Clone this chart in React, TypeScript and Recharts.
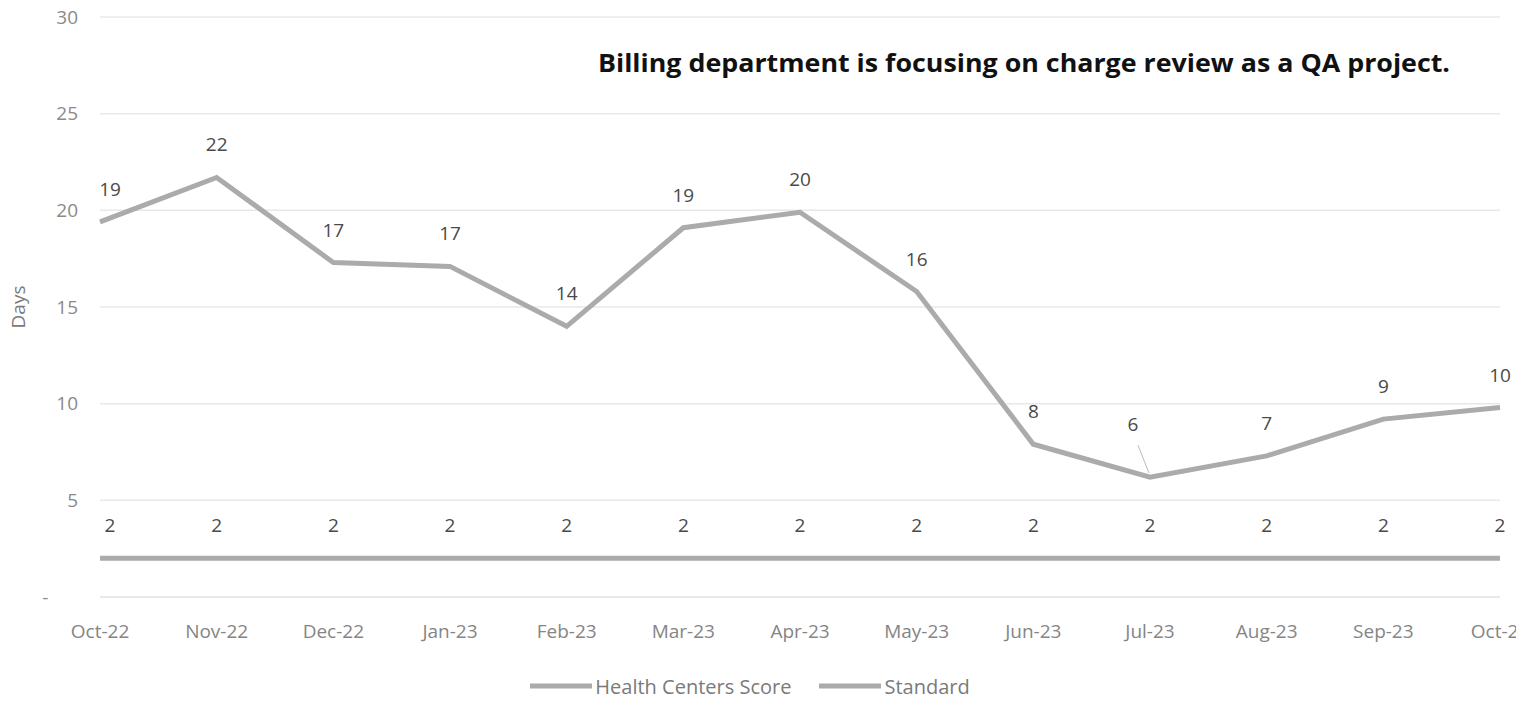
import React from 'react';
import { LineChart, Line, XAxis, YAxis, CartesianGrid, LabelList, Legend } from 'recharts';

const months = ['Oct-22', 'Nov-22', 'Dec-22', 'Jan-23', 'Feb-23', 'Mar-23', 'Apr-23', 'May-23', 'Jun-23', 'Jul-23', 'Aug-23', 'Sep-23', 'Oct-23'];
const healthCentersScore = [19.4, 21.7, 17.3, 17.1, 14.0, 19.1, 19.9, 15.8, 7.9, 6.2, 7.3, 9.2, 9.8];
const standard = [2, 2, 2, 2, 2, 2, 2, 2, 2, 2, 2, 2, 2];
const yTicks = [0, 5, 10, 15, 20, 25, 30];
const seriesNames = ['Health Centers Score', 'Standard'];
const yAxisTitle = 'Days';
const annotation = 'Billing department is focusing on charge review as a QA project.';

const data = months.map((m, i) => ({ month: m, score: healthCentersScore[i], standard: standard[i] }));

const FONT = "'Open Sans', 'Noto Sans', sans-serif";
const LINE_COLOR = '#ababab';

const makeLabel = (isScore: boolean) => (props: any) => {
  const { x, y, value, index } = props;
  if (x == null || y == null) return null;
  const special = isScore && index === 9;
  const lx = special ? x - 17 : x + (index === 0 ? 10 : 0);
  const ly = special ? y - 46 : y - 26;
  return (
    <g>
      {special && <line x1={x - 12} y1={y - 32} x2={x - 1} y2={y - 4} stroke="#bbb" strokeWidth={1} />}
      <text x={lx} y={ly} textAnchor="middle" fontSize={19} fill="#4a4a4a" fontFamily={FONT}>
        {Math.round(value)}
      </text>
    </g>
  );
};

const renderLegend = () => (
  <div style={{ boxSizing: 'border-box', height: 44, paddingTop: 12, display: 'flex', justifyContent: 'center', alignItems: 'center', fontFamily: FONT, fontSize: 20, color: '#7a7a7a' }}>
    {seriesNames.map((n, i) => (
      <span key={n} style={{ display: 'flex', alignItems: 'center', marginLeft: i === 0 ? 0 : 28 }}>
        <svg width={62} height={8} style={{ marginRight: 3 }}>
          <line x1={0} y1={4} x2={62} y2={4} stroke={LINE_COLOR} strokeWidth={5} />
        </svg>
        <span>{n}</span>
      </span>
    ))}
  </div>
);

export default function App() {
  return (
    <div style={{ position: 'absolute', left: 0, top: 0, width: 1516, height: 702, background: '#fff' }}>
      <LineChart width={1516} height={702} data={data} margin={{ top: 17, right: 16, bottom: 0, left: 0 }}>
        <CartesianGrid vertical={false} stroke="#e8e8e8" strokeWidth={1.5} />
        <XAxis
          dataKey="month"
          height={61}
          tickLine={false}
          axisLine={{ stroke: '#e4e4e4' }}
          tickMargin={22}
          interval={0}
          tick={{ fontSize: 19, fill: '#858585', fontFamily: FONT }}
        />
        <YAxis
          width={100}
          domain={[0, 30]}
          ticks={yTicks}
          tickLine={false}
          axisLine={false}
          tickMargin={16}
          tick={{ fontSize: 19, fill: '#8a8a8a', fontFamily: FONT }}
          tickFormatter={(v: number) => (v === 0 ? '-\u00a0\u00a0\u00a0\u00a0\u00a0\u00a0' : String(v))}
          label={(p: any) => {
            const vb = p.viewBox || { y: 17, height: 580 };
            const cx = 18;
            const cy = vb.y + vb.height / 2;
            return (
              <text x={cx} y={cy} transform={`rotate(-90 ${cx} ${cy})`} textAnchor="middle" dominantBaseline="central" fontSize={19} fill="#7a7a7a" fontFamily={FONT}>
                {yAxisTitle}
              </text>
            );
          }}
        />
        <Legend verticalAlign="bottom" content={renderLegend} />
        <Line type="linear" dataKey="score" name={seriesNames[0]} stroke={LINE_COLOR} strokeWidth={5} dot={false} isAnimationActive={false}>
          <LabelList dataKey="score" content={makeLabel(true)} />
        </Line>
        <Line type="linear" dataKey="standard" name={seriesNames[1]} stroke={LINE_COLOR} strokeWidth={5} dot={false} isAnimationActive={false}>
          <LabelList dataKey="standard" content={makeLabel(false)} />
        </Line>
      </LineChart>
      <svg width={1516} height={702} style={{ position: 'absolute', left: 0, top: 0, pointerEvents: 'none' }}>
        <text x={598} y={72} fontSize={25} fontWeight={700} fill="#111" fontFamily="'Liberation Sans Narrow', 'Open Sans', sans-serif" textLength={852} lengthAdjust="spacingAndGlyphs">
          {annotation}
        </text>
      </svg>
    </div>
  );
}
